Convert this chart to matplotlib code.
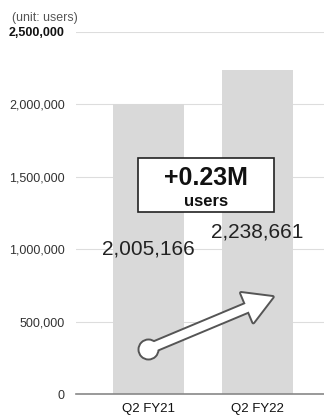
import matplotlib.pyplot as plt
from matplotlib.patches import Rectangle
from matplotlib.ticker import FuncFormatter

plt.rcParams['font.family'] = ['Liberation Sans', 'DejaVu Sans']

quarters = ['Q2 FY21', 'Q2 FY22']
users = [2005166, 2238661]
yticks = [0, 500000, 1000000, 1500000, 2000000, 2500000]

fig = plt.figure(figsize=(3.24, 4.19), dpi=100)
ax = fig.add_axes([76/324, 25/419, 248/324, 362/419])

x = range(len(quarters))
ax.bar(x, users, width=0.65, color='#d9d9d9', zorder=2)

# value labels sit halfway up each bar
for i, v in enumerate(users):
    ax.text(i, v / 2, f'{v:,}', ha='center', va='center', fontsize=15,
            color='#222222', zorder=5)

ax.set_xlim(-0.665, 1.61)
ax.set_ylim(0, 2500000)
ax.set_yticks(yticks)
ax.yaxis.set_major_formatter(FuncFormatter(lambda v, p: f'{int(v):,}'))
ax.set_xticks(list(x))
ax.set_xticklabels(quarters, fontsize=9.5, color='#111111')
ax.tick_params(axis='y', length=0, pad=8, labelsize=9, labelcolor='#333333')
ax.tick_params(axis='x', length=0, pad=6.5)
ax.yaxis.get_ticklabels()[-1].set_fontweight('bold')
ax.yaxis.get_ticklabels()[-1].set_color('#111111')

for s in ['top', 'right', 'left']:
    ax.spines[s].set_visible(False)
ax.spines['bottom'].set_color('#888888')
ax.spines['bottom'].set_linewidth(1.2)
ax.spines['bottom'].set_zorder(3)
ax.grid(axis='y', color='#dddddd', linewidth=0.8, zorder=0)
ax.set_axisbelow(True)

fig.text(12/324, 1 - 17.5/419, '(unit: users)', fontsize=8.9, color='#555555',
         ha='left', va='center')

# growth box
diff = users[1] - users[0]
ax.add_patch(Rectangle((0.53 - 0.625, 1443000 - 186500), 1.25, 373000,
                       facecolor='white', edgecolor='#222222', lw=1.2, zorder=6))
ax.text(0.53, 1495000, f'+{diff / 1e6:.2f}M', ha='center', va='center',
        fontsize=18, fontweight='bold', color='#111111', zorder=7)
ax.text(0.53, 1326000, 'users', ha='center', va='center',
        fontsize=12, fontweight='bold', color='#111111', zorder=7)

# arrow: dark pass for the outline, white pass on top for the fill
start = (0.0, 311000)
end = (1.14, 670000)
style = 'simple,head_length=1.0,head_width=1.15,tail_width=0.3'
ax.annotate('', xy=end, xytext=start, zorder=8,
            arrowprops=dict(arrowstyle=style, mutation_scale=20, shrinkA=0, shrinkB=0,
                            facecolor='#555555', edgecolor='#555555', lw=2.8))
ax.plot(*start, marker='o', ms=13, mfc='#555555', mec='#555555', mew=2.8, zorder=8)
ax.annotate('', xy=end, xytext=start, zorder=9,
            arrowprops=dict(arrowstyle=style, mutation_scale=20, shrinkA=0, shrinkB=0,
                            facecolor='white', edgecolor='none', lw=0))
ax.plot(*start, marker='o', ms=13, mfc='white', mec='none', mew=0, zorder=9)

fig.savefig('out.png', dpi=100)
